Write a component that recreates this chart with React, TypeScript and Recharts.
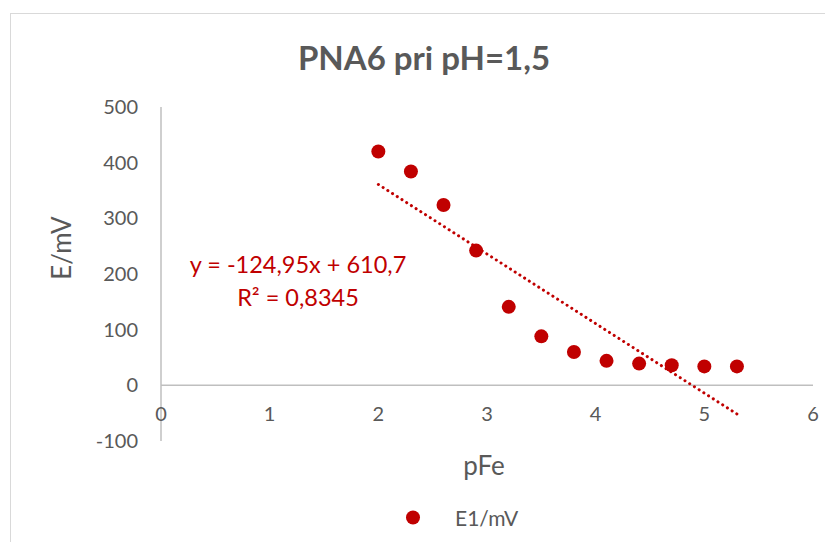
import React from 'react';
import { ScatterChart, Scatter, XAxis, YAxis, ReferenceLine } from 'recharts';

const pFe = [2, 2.3, 2.6, 2.9, 3.2, 3.5, 3.8, 4.1, 4.4, 4.7, 5.0, 5.3];
const e1 = [420, 384, 324, 242, 141, 88, 60, 44, 39, 36, 34, 34];

// linear trendline end points (y = -124,95x + 610,7)
const trendX = [2, 5.3];
const trendY = [360.8, -51.5];

const xTicks = [0, 1, 2, 3, 4, 5, 6];
const yTicks = [-100, 0, 100, 200, 300, 400, 500];

const points = pFe.map((x, i) => ({ x, y: e1[i] }));
const trend = trendX.map((x, i) => ({ x, y: trendY[i] }));

const RED = '#c00000';
const GREY_TEXT = '#595959';
const FONT = 'Lato, "Open Sans", sans-serif';

const XTick = (props: any) => {
    const { x, y, payload } = props;
    return (
        <text x={x} y={y} dy={-20} textAnchor="middle" fill={GREY_TEXT} fontSize={20} fontFamily={FONT}>
            {payload.value}
        </text>
    );
};

export default function App() {
    return (
        <div
            style={{
                position: 'fixed',
                left: 0,
                top: 0,
                width: 825,
                height: 542,
                overflow: 'hidden',
                background: '#fff',
                fontFamily: FONT,
            }}
        >
            <div
                style={{
                    position: 'absolute',
                    left: 10,
                    top: 13,
                    width: 900,
                    height: 600,
                    borderLeft: '1.5px solid #d9d9d9',
                    borderTop: '1.5px solid #d9d9d9',
                }}
            />
            <ScatterChart
                width={817}
                height={534}
                margin={{ top: 99, right: 12, left: 93, bottom: 71 }}
                style={{ position: 'absolute', left: 8, top: 8 }}
            >
                <XAxis
                    type="number"
                    dataKey="x"
                    domain={[0, 6]}
                    ticks={xTicks}
                    axisLine={false}
                    tickLine={false}
                    tickSize={0}
                    tickMargin={0}
                    height={30}
                    tick={<XTick />}
                    interval={0}
                />
                <YAxis
                    type="number"
                    dataKey="y"
                    domain={[-100, 500]}
                    ticks={yTicks}
                    width={60}
                    axisLine={{ stroke: '#bfbfbf', strokeWidth: 1.5 }}
                    tickLine={false}
                    tickSize={0}
                    tickMargin={23}
                    interval={0}
                    tick={{ fill: GREY_TEXT, fontSize: 20, fontFamily: FONT }}
                />
                <ReferenceLine y={0} stroke="#bfbfbf" strokeWidth={1.5} />
                <Scatter
                    name="trend"
                    data={trend}
                    line={{ stroke: RED, strokeWidth: 3, strokeDasharray: '0.1 5.5', strokeLinecap: 'round' }}
                    shape={() => null}
                    legendType="none"
                    isAnimationActive={false}
                />
                <Scatter
                    name="E1/mV"
                    data={points}
                    fill={RED}
                    shape={(p: any) => <circle cx={p.cx} cy={p.cy} r={7} fill={RED} />}
                    isAnimationActive={false}
                />
            </ScatterChart>
            <div
                style={{
                    position: 'absolute',
                    left: 405,
                    top: 517,
                    display: 'flex',
                    alignItems: 'center',
                    transform: 'translateY(-50%)',
                }}
            >
                <svg width={16} height={16} style={{ marginRight: 34 }}>
                    <circle cx={8} cy={8} r={7} fill={RED} />
                </svg>
                <span style={{ fontSize: 21, color: GREY_TEXT }}>E1/mV</span>
            </div>
            <div
                style={{
                    position: 'absolute',
                    left: 8,
                    width: 832,
                    top: 37,
                    textAlign: 'center',
                    fontSize: 33,
                    fontWeight: 700,
                    color: GREY_TEXT,
                }}
            >
                PNA6 pri pH=1,5
            </div>
            <div
                style={{
                    position: 'absolute',
                    left: 61,
                    top: 248,
                    transform: 'translate(-50%, -50%) rotate(-90deg)',
                    fontSize: 26,
                    color: GREY_TEXT,
                    whiteSpace: 'nowrap',
                }}
            >
                E/mV
            </div>
            <div
                style={{
                    position: 'absolute',
                    left: 484,
                    top: 465,
                    transform: 'translate(-50%, -50%)',
                    fontSize: 26,
                    color: GREY_TEXT,
                }}
            >
                pFe
            </div>
            <div
                style={{
                    position: 'absolute',
                    left: 298,
                    top: 281,
                    transform: 'translate(-50%, -50%)',
                    fontSize: 23.5,
                    lineHeight: '33px',
                    color: RED,
                    textAlign: 'center',
                    whiteSpace: 'nowrap',
                }}
            >
                y = -124,95x + 610,7
                <br />
                R² = 0,8345
            </div>
        </div>
    );
}
